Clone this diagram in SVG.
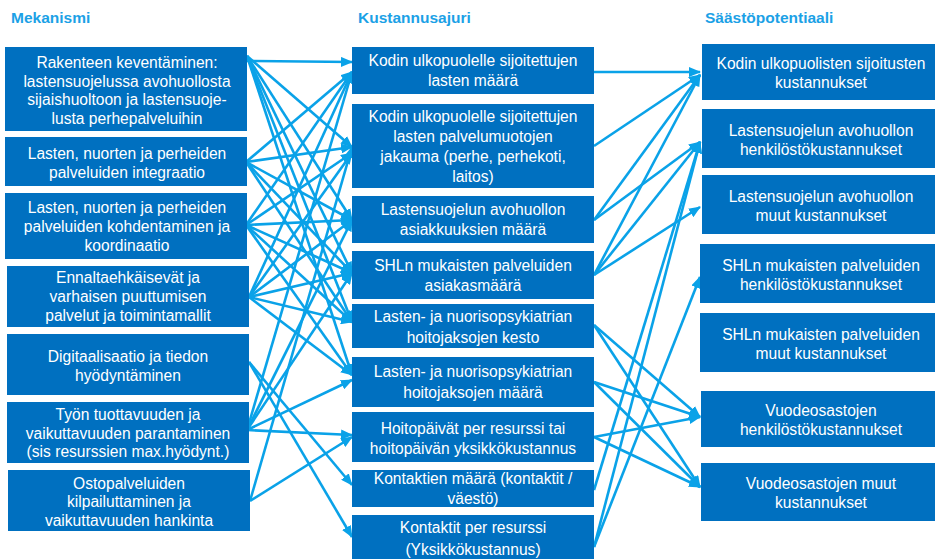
<svg xmlns="http://www.w3.org/2000/svg" width="935" height="559" viewBox="0 0 935 559">
<style>
.box{fill:#0070C0}
.t{font-family:"Liberation Sans",Arial,sans-serif;font-size:15.6px;fill:#fff;text-anchor:middle}
.h{font-family:"Liberation Sans",Arial,sans-serif;font-size:15.5px;font-weight:bold;fill:#1BA1E6}
.c line{stroke:#0AA2E8;stroke-width:2.6;marker-end:url(#ah)}
</style>
<defs>
<marker id="ah" markerUnits="userSpaceOnUse" markerWidth="12" markerHeight="10" refX="11" refY="5" orient="auto">
<path d="M0,0 L12,5 L0,10 z" fill="#0AA2E8"/>
</marker>
</defs>
<rect width="935" height="559" fill="#fff"/>
<text class="h" x="11" y="23">Mekanismi</text>
<text class="h" x="358" y="23">Kustannusajuri</text>
<text class="h" x="705" y="23">Säästöpotentiaali</text>

<g class="c">
<!-- left to middle -->
<line x1="247" y1="61" x2="352" y2="62"/>
<line x1="247" y1="56" x2="352" y2="147"/>
<line x1="247" y1="56" x2="352" y2="220"/>
<line x1="247" y1="56" x2="352" y2="273"/>
<line x1="247" y1="56" x2="352" y2="322"/>
<line x1="247" y1="56" x2="352" y2="375"/>
<line x1="246" y1="162" x2="352" y2="72"/>
<line x1="246" y1="162" x2="352" y2="147"/>
<line x1="246" y1="162" x2="352" y2="220"/>
<line x1="246" y1="162" x2="352" y2="273"/>
<line x1="246" y1="162" x2="352" y2="322"/>
<line x1="246" y1="225" x2="352" y2="72"/>
<line x1="246" y1="225" x2="352" y2="153"/>
<line x1="246" y1="225" x2="352" y2="220"/>
<line x1="246" y1="225" x2="352" y2="273"/>
<line x1="246" y1="225" x2="352" y2="322"/>
<line x1="246" y1="225" x2="352" y2="375"/>
<line x1="249" y1="297" x2="352" y2="72"/>
<line x1="249" y1="297" x2="352" y2="153"/>
<line x1="249" y1="297" x2="352" y2="220"/>
<line x1="249" y1="297" x2="352" y2="273"/>
<line x1="249" y1="297" x2="352" y2="322"/>
<line x1="249" y1="297" x2="352" y2="375"/>
<line x1="249" y1="362" x2="352" y2="485"/>
<line x1="249" y1="362" x2="352" y2="537"/>
<line x1="247" y1="430" x2="352" y2="72"/>
<line x1="247" y1="430" x2="352" y2="220"/>
<line x1="247" y1="430" x2="352" y2="273"/>
<line x1="247" y1="430" x2="352" y2="380"/>
<line x1="247" y1="430" x2="352" y2="435"/>
<line x1="250" y1="501" x2="352" y2="147"/>
<line x1="250" y1="501" x2="352" y2="437"/>
<!-- middle to right -->
<line x1="594" y1="72" x2="700" y2="72"/>
<line x1="594" y1="146" x2="700" y2="75"/>
<line x1="594" y1="220" x2="700" y2="75"/>
<line x1="594" y1="220" x2="700" y2="142"/>
<line x1="594" y1="275" x2="700" y2="75"/>
<line x1="594" y1="275" x2="700" y2="142"/>
<line x1="594" y1="275" x2="700" y2="207"/>
<line x1="594" y1="325" x2="700" y2="417"/>
<line x1="594" y1="325" x2="700" y2="487"/>
<line x1="594" y1="382" x2="700" y2="417"/>
<line x1="594" y1="382" x2="700" y2="487"/>
<line x1="594" y1="437" x2="700" y2="417"/>
<line x1="594" y1="437" x2="700" y2="487"/>
<line x1="594" y1="490" x2="700" y2="142"/>
<line x1="594" y1="547" x2="700" y2="142"/>
<line x1="594" y1="547" x2="700" y2="277"/>
</g>

<g id="L1"><rect class="box" x="5" y="47" width="242" height="84"/>
<text class="t"><tspan x="127" y="68">Rakenteen keventäminen:</tspan><tspan x="127" y="86.5">lastensuojelussa avohuollosta</tspan><tspan x="127" y="105">sijaishuoltoon ja lastensuoje-</tspan><tspan x="127" y="123.5">lusta perhepalveluihin</tspan></text></g>
<g id="L2"><rect class="box" x="5" y="137" width="242" height="49"/>
<text class="t"><tspan x="127" y="159">Lasten, nuorten ja perheiden</tspan><tspan x="127" y="178">palveluiden integraatio</tspan></text></g>
<g id="L3"><rect class="box" x="5" y="193" width="242" height="66"/>
<text class="t"><tspan x="127" y="213">Lasten, nuorten ja perheiden</tspan><tspan x="127" y="232">palveluiden kohdentaminen ja</tspan><tspan x="127" y="251">koordinaatio</tspan></text></g>
<g id="L4"><rect class="box" x="7" y="266" width="242" height="61"/>
<text class="t"><tspan x="128" y="283">Ennaltaehkäisevät ja</tspan><tspan x="128" y="302">varhaisen puuttumisen</tspan><tspan x="128" y="321">palvelut ja toimintamallit</tspan></text></g>
<g id="L5"><rect class="box" x="7" y="334" width="242" height="61"/>
<text class="t"><tspan x="128" y="361.5">Digitaalisaatio ja tiedon</tspan><tspan x="128" y="380.5">hyödyntäminen</tspan></text></g>
<g id="L6"><rect class="box" x="7" y="402" width="242" height="61"/>
<text class="t"><tspan x="128" y="420">Työn tuottavuuden ja</tspan><tspan x="128" y="438.5">vaikuttavuuden parantaminen</tspan><tspan x="128" y="457">(sis resurssien max.hyödynt.)</tspan></text></g>
<g id="L7"><rect class="box" x="8" y="470" width="242" height="61"/>
<text class="t"><tspan x="129" y="488.5">Ostopalveluiden</tspan><tspan x="129" y="507">kilpailuttaminen ja</tspan><tspan x="129" y="525.5">vaikuttavuuden hankinta</tspan></text></g>

<g id="M1"><rect class="box" x="352" y="47" width="242" height="47"/>
<text class="t"><tspan x="473" y="66">Kodin ulkopuolelle sijoitettujen</tspan><tspan x="473" y="86">lasten määrä</tspan></text></g>
<g id="M2"><rect class="box" x="352" y="104" width="242" height="84"/>
<text class="t"><tspan x="473" y="121.5">Kodin ulkopuolelle sijoitettujen</tspan><tspan x="473" y="141.5">lasten palvelumuotojen</tspan><tspan x="473" y="161.5">jakauma (perhe, perhekoti,</tspan><tspan x="473" y="181.5">laitos)</tspan></text></g>
<g id="M3"><rect class="box" x="352" y="196" width="242" height="47"/>
<text class="t"><tspan x="473" y="215">Lastensuojelun avohuollon</tspan><tspan x="473" y="235">asiakkuuksien määrä</tspan></text></g>
<g id="M4"><rect class="box" x="352" y="251" width="242" height="48"/>
<text class="t"><tspan x="473" y="271">SHLn mukaisten palveluiden</tspan><tspan x="473" y="291">asiakasmäärä</tspan></text></g>
<g id="M5"><rect class="box" x="352" y="304" width="242" height="44"/>
<text class="t"><tspan x="473" y="322">Lasten- ja nuorisopsykiatrian</tspan><tspan x="473" y="343">hoitojaksojen kesto</tspan></text></g>
<g id="M6"><rect class="box" x="352" y="357" width="242" height="50"/>
<text class="t"><tspan x="473" y="376.5">Lasten- ja nuorisopsykiatrian</tspan><tspan x="473" y="397.5">hoitojaksojen määrä</tspan></text></g>
<g id="M7"><rect class="box" x="352" y="412" width="242" height="50"/>
<text class="t"><tspan x="473" y="433.5">Hoitopäivät per resurssi tai</tspan><tspan x="473" y="453.5">hoitopäivän yksikkökustannus</tspan></text></g>
<g id="M8"><rect class="box" x="352" y="470" width="242" height="37"/>
<text class="t"><tspan x="473" y="483.5">Kontaktien määrä (kontaktit /</tspan><tspan x="473" y="503.5">väestö)</tspan></text></g>
<g id="M9"><rect class="box" x="352" y="515" width="242" height="44"/>
<text class="t"><tspan x="473" y="533">Kontaktit per resurssi</tspan><tspan x="473" y="554.5">(Yksikkökustannus)</tspan></text></g>

<g id="R1"><rect class="box" x="702" y="44" width="240" height="56"/>
<text class="t"><tspan x="821" y="68.5">Kodin ulkopuolisten sijoitusten</tspan><tspan x="821" y="87.5">kustannukset</tspan></text></g>
<g id="R2"><rect class="box" x="702" y="109" width="240" height="59"/>
<text class="t"><tspan x="821" y="136">Lastensuojelun avohuollon</tspan><tspan x="821" y="155">henkilöstökustannukset</tspan></text></g>
<g id="R3"><rect class="box" x="702" y="175" width="240" height="59"/>
<text class="t"><tspan x="821" y="201.5">Lastensuojelun avohuollon</tspan><tspan x="821" y="220.5">muut kustannukset</tspan></text></g>
<g id="R4"><rect class="box" x="700" y="244" width="242" height="59"/>
<text class="t"><tspan x="821" y="270.5">SHLn mukaisten palveluiden</tspan><tspan x="821" y="290">henkilöstökustannukset</tspan></text></g>
<g id="R5"><rect class="box" x="700" y="313" width="242" height="59"/>
<text class="t"><tspan x="821" y="339.5">SHLn mukaisten palveluiden</tspan><tspan x="821" y="358.5">muut kustannukset</tspan></text></g>
<g id="R6"><rect class="box" x="701" y="391" width="241" height="56"/>
<text class="t"><tspan x="821" y="416">Vuodeosastojen</tspan><tspan x="821" y="435">henkilöstökustannukset</tspan></text></g>
<g id="R7"><rect class="box" x="701" y="463" width="241" height="58"/>
<text class="t"><tspan x="821" y="488.5">Vuodeosastojen muut</tspan><tspan x="821" y="507.5">kustannukset</tspan></text></g>
</svg>
